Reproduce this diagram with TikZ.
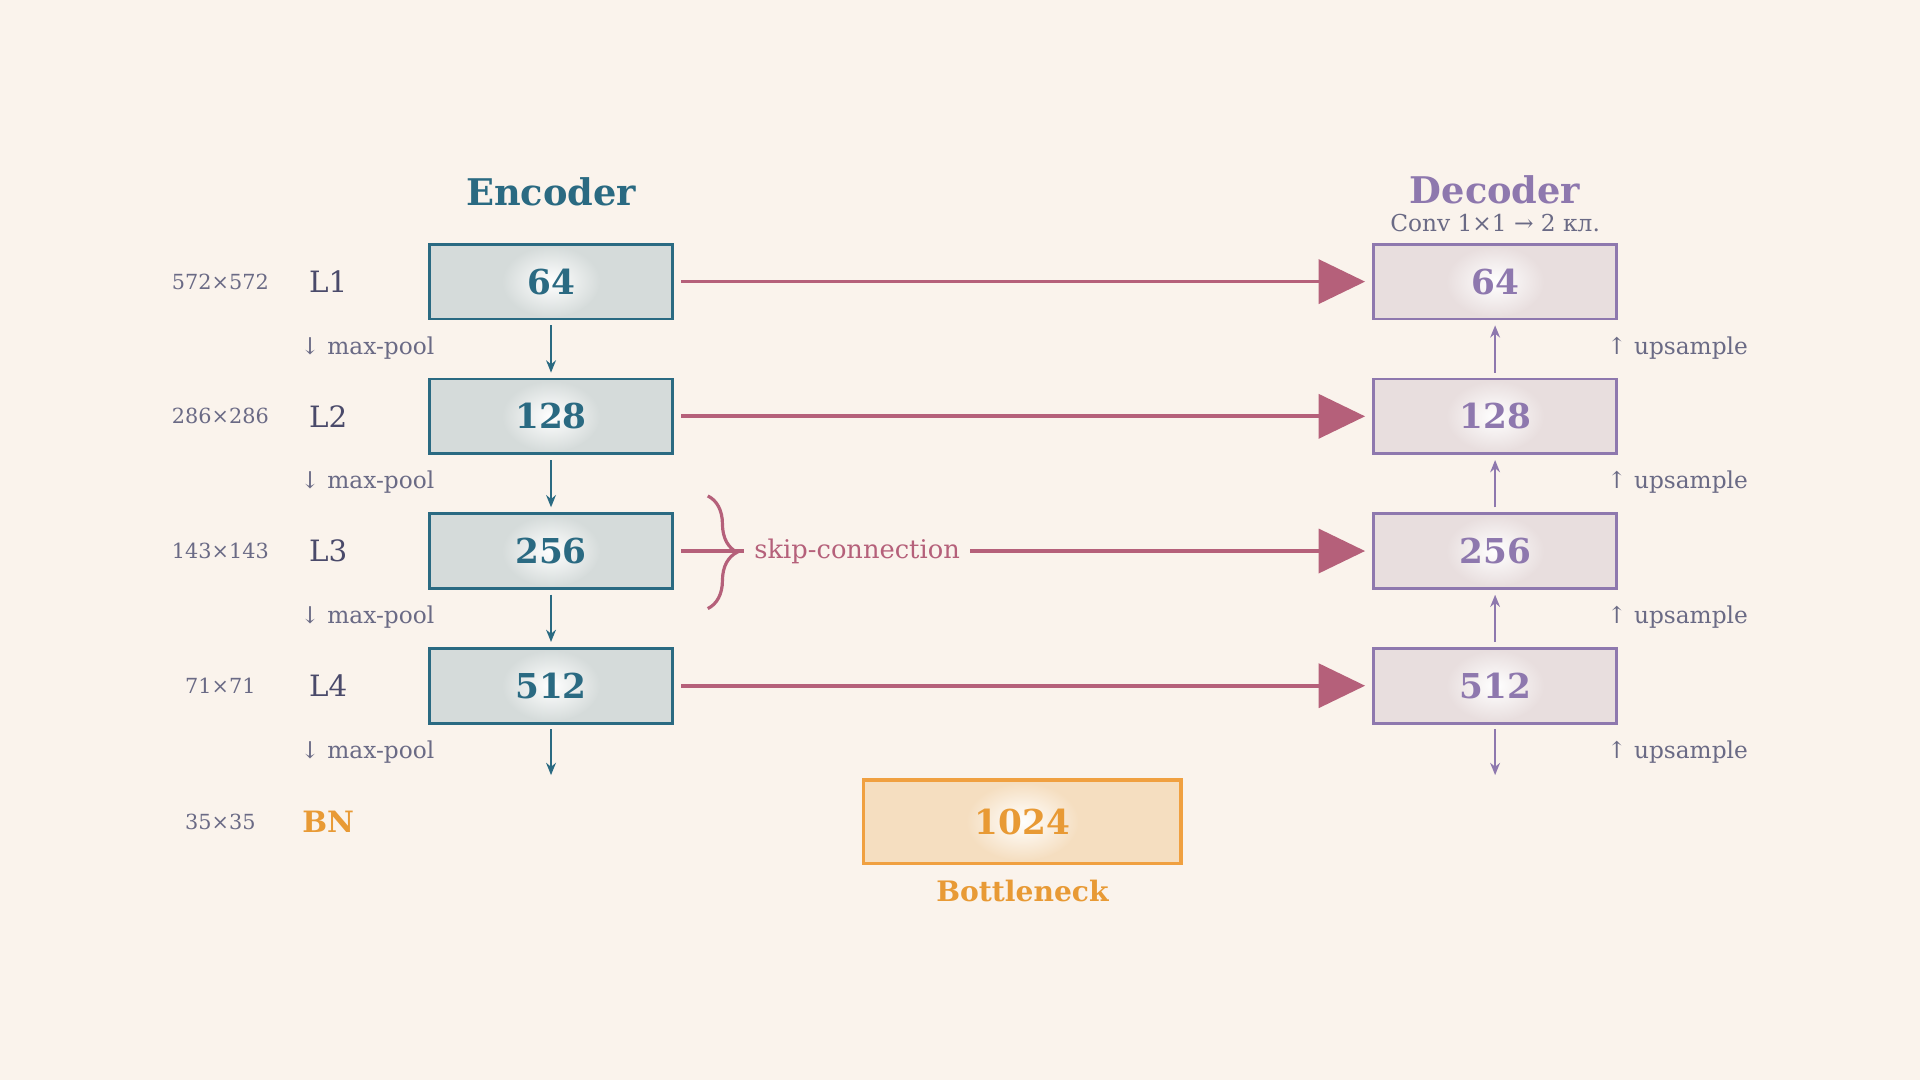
\documentclass[tikz,border=0pt]{standalone}
\usepackage{fontspec}
\setmainfont{DejaVu Serif}
\usetikzlibrary{arrows.meta,decorations.pathreplacing}
\definecolor{bg}{HTML}{FAF3EC}
\definecolor{enc}{HTML}{2A6A82}
\definecolor{encf}{HTML}{D5DBDA}
\definecolor{dec}{HTML}{8E78AE}
\definecolor{decf}{HTML}{E8DEDE}
\definecolor{bn}{HTML}{F0A040}
\definecolor{bnf}{HTML}{F5DEC0}
\definecolor{bnt}{HTML}{E89A35}
\definecolor{skip}{HTML}{B5607A}
\definecolor{gr}{HTML}{6A6A85}
\definecolor{lab}{HTML}{4A4A6A}
\begin{document}
\begin{tikzpicture}[x=0.5pt,y=-0.5pt,
  ebox/.style={draw=enc,fill=encf,line width=1.2pt,minimum width=99pt,minimum height=30.5pt},
  dbox/.style={draw=dec,fill=decf,line width=1.2pt,minimum width=99pt,minimum height=30.5pt},
  num/.style={font=\bfseries\fontsize{14}{14}\selectfont},
  sz/.style={text=gr,font=\fontsize{8.5}{8.5}\selectfont},
  lv/.style={text=lab,font=\fontsize{12}{12}\selectfont},
  note/.style={text=gr,font=\fontsize{9.5}{9.5}\selectfont},
  skipa/.style={draw=skip,line width=1.5pt,-{Triangle[length=19pt,width=18pt]}},
  ea/.style={draw=enc,line width=0.8pt,-{Stealth[length=5pt,width=4pt]}},
  da/.style={draw=dec,line width=0.8pt,-{Stealth[length=5pt,width=4pt]}}]
\fill[bg] (0,0) rectangle (1568,882);
\useasboundingbox (0,0) rectangle (1568,882);
\node[text=enc,font=\bfseries\fontsize{15}{15}\selectfont] (et) at (450,157) {Encoder};
\node[text=dec,font=\bfseries\fontsize{15}{15}\selectfont] (dt) at (1221,155) {Decoder};
\node[text=gr,font=\fontsize{9.5}{9.5}\selectfont] (ds) at (1221,182) {Conv 1×1 → 2 кл.};
\foreach \i/\n/\s/\y in {1/64/572×572/230,2/128/286×286/340,3/256/143×143/450,4/512/71×71/560}{
  \node[ebox] (e\i) at (450,\y) {};
  \shade[inner color=white,outer color=encf] (450,\y) ellipse (40 and 29);
  \node[num,text=enc] (en\i) at (450,\y) {\n};
  \node[dbox] (d\i) at (1221,\y) {};
  \shade[inner color=white,outer color=decf] (1221,\y) ellipse (40 and 29);
  \node[num,text=dec] (dn\i) at (1221,\y) {\n};
  \node[sz] (s\i) at (180,\y) {\s};
  \node[lv] (l\i) at (268,\y) {L\i};
  \node[note] (mp\i) at (300,\y+54) {↓ max-pool};
  \node[note] (us\i) at (1370,\y+54) {↑ upsample};
}
\node[sz] (s5) at (180,671) {35×35};
\node[lv,text=bnt,font=\bfseries\fontsize{12}{12}\selectfont] (l5) at (268,671) {BN};
\node[draw=bn,fill=bnf,line width=1.3pt,minimum width=129.5pt,minimum height=34pt] (b) at (835,671) {};
\shade[inner color=white,outer color=bnf] (835,671) ellipse (46 and 32);
\node[num,text=bnt] (bnum) at (835,671) {1024};
\node[text=bnt,font=\bfseries\fontsize{11.5}{11.5}\selectfont] (bl) at (835,728) {Bottleneck};
% encoder arrows
\draw[ea] ([yshift=-2]e1.south) -- ([yshift=2]e2.north);
\draw[ea] ([yshift=-2]e2.south) -- ([yshift=2]e3.north);
\draw[ea] ([yshift=-2]e3.south) -- ([yshift=2]e4.north);
\coordinate (eend) at (450,633);
\draw[ea] ([yshift=-2]e4.south) -- (eend);
\draw[da] ([yshift=2]d2.north) -- ([yshift=-2]d1.south);
\draw[da] ([yshift=2]d3.north) -- ([yshift=-2]d2.south);
\draw[da] ([yshift=2]d4.north) -- ([yshift=-2]d3.south);
\coordinate (dend) at (1221,633);
\draw[da] ([yshift=-2]d4.south) -- (dend);
% skips
\foreach \i in {1,2,4}{\draw[skipa] ([xshift=3]e\i.east) -- ([xshift=-3]d\i.west);}
\node[text=skip,fill=bg,inner sep=4pt,font=\fontsize{10.5}{10.5}\selectfont] (sk) at (700,450) {skip-connection};
\draw[skip,line width=1.5pt] ([xshift=3]e3.east) -- (sk.west |- e3.east);
\draw[skipa] (sk.east |- e3.east) -- ([xshift=-3]d3.west);
\draw[skip,line width=1.3pt,decorate,decoration={brace,amplitude=12pt}] (578,405) -- (578,497);
\end{tikzpicture}
\end{document}
